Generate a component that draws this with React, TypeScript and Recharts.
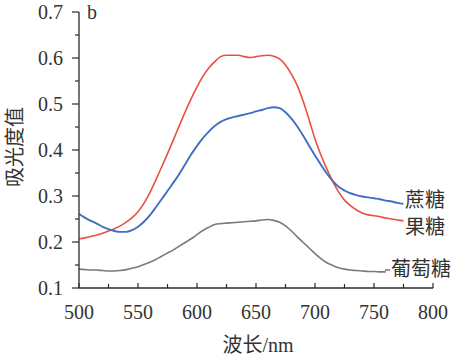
import React from 'react';
import { LineChart, Line, XAxis, YAxis } from 'recharts';

const wavelengths = [500,505,510,515,520,525,530,535,540,545,550,555,560,565,570,575,580,585,590,595,600,605,610,615,620,625,630,635,640,645,650,655,660,665,670,675,680,685,690,695,700,705,710,715,720,725,730,735,740,745,750,755,760,765,770,775];

const fructose = [0.207,0.209,0.212,0.215,0.219,0.224,0.229,0.235,0.243,0.253,0.266,0.284,0.307,0.334,0.363,0.392,0.422,0.453,0.483,0.511,0.537,0.560,0.578,0.592,0.603,0.606,0.606,0.606,0.603,0.601,0.603,0.605,0.606,0.604,0.598,0.585,0.565,0.540,0.506,0.466,0.424,0.389,0.359,0.332,0.309,0.291,0.279,0.270,0.263,0.259,0.257,0.255,0.252,0.250,0.248,0.246];

const sucrose = [0.261,0.253,0.246,0.240,0.233,0.228,0.224,0.222,0.222,0.226,0.233,0.244,0.258,0.275,0.293,0.311,0.329,0.348,0.369,0.390,0.409,0.426,0.440,0.452,0.461,0.467,0.471,0.474,0.477,0.480,0.484,0.487,0.491,0.493,0.491,0.482,0.468,0.451,0.431,0.409,0.388,0.368,0.349,0.333,0.320,0.312,0.306,0.302,0.299,0.297,0.295,0.293,0.290,0.288,0.285,0.283];

const glucose = [0.141,0.140,0.139,0.139,0.138,0.137,0.137,0.138,0.140,0.143,0.146,0.151,0.156,0.162,0.169,0.176,0.183,0.191,0.199,0.207,0.216,0.225,0.232,0.238,0.240,0.241,0.242,0.243,0.244,0.245,0.246,0.248,0.249,0.247,0.243,0.235,0.224,0.211,0.199,0.187,0.175,0.164,0.155,0.149,0.144,0.141,0.139,0.138,0.137,0.136,0.136,0.135,0.135];

const xTicks = [500,525,550,575,600,625,650,675,700,725,750,775,800];
const yTicks = [0.1,0.15,0.2,0.25,0.3,0.35,0.4,0.45,0.5,0.55,0.6,0.65,0.7];

const seriesLabels = ['蔗糖', '果糖', '葡萄糖'];
const panelLabel = 'b';
const yTitle = '吸光度值';

const data = wavelengths.map((w, i) => ({
  w,
  fructose: fructose[i],
  sucrose: sucrose[i],
  glucose: i < glucose.length ? glucose[i] : null,
}));

const AXIS = '#2a2a2a';
const NUM_FONT = '"Liberation Serif", "Times New Roman", serif';
const CJK_FONT = '"Noto Sans CJK SC", sans-serif';

const XTick = (props: any) => {
  const { x, y, payload } = props;
  const v = payload.value;
  const major = v % 50 === 0;
  return (
    <g>
      <line x1={x} x2={x} y1={y} y2={y - (major ? 5 : 4)} stroke={AXIS} strokeWidth={1.2} />
      {major && (
        <text x={x} y={y + 31} textAnchor="middle" fontFamily={NUM_FONT} fontSize={20} fill="#333">
          {v}
        </text>
      )}
    </g>
  );
};

const YTick = (props: any) => {
  const { x, y, payload } = props;
  const v = payload.value;
  const major = Math.round(v * 100) % 10 === 0;
  return (
    <g>
      <line x1={x} x2={x - (major ? 7 : 4)} y1={y} y2={y} stroke={AXIS} strokeWidth={1.2} />
      {major && (
        <text x={x - 16} y={y + 7} textAnchor="end" fontFamily={NUM_FONT} fontSize={20} fill="#333">
          {v.toFixed(1)}
        </text>
      )}
    </g>
  );
};

export default function App() {
  return (
    <div style={{ position: 'absolute', left: 0, top: 0, width: 457, height: 361, background: '#fff' }}>
      <LineChart
        width={457}
        height={361}
        data={data}
        margin={{ top: 12, right: 24, bottom: 33, left: 19 }}
      >
        <XAxis
          dataKey="w"
          type="number"
          domain={[500, 800]}
          ticks={xTicks}
          interval={0}
          height={40}
          tickSize={0}
          tickMargin={0}
          tickLine={false}
          axisLine={{ stroke: AXIS, strokeWidth: 1.3 }}
          tick={<XTick />}
        />
        <YAxis
          type="number"
          domain={[0.1, 0.7]}
          ticks={yTicks}
          interval={0}
          width={60}
          tickSize={0}
          tickMargin={0}
          tickLine={false}
          axisLine={{ stroke: AXIS, strokeWidth: 1.3 }}
          tick={<YTick />}
        />
        <Line type="monotone" dataKey="fructose" stroke="#e8503f" strokeWidth={1.6} dot={false} isAnimationActive={false} />
        <Line type="monotone" dataKey="sucrose" stroke="#3f6fc2" strokeWidth={1.9} dot={false} isAnimationActive={false} />
        <Line type="monotone" dataKey="glucose" stroke="#7a7a7a" strokeWidth={1.6} dot={false} isAnimationActive={false} connectNulls={false} />
      </LineChart>
      <svg width={457} height={361} style={{ position: 'absolute', left: 0, top: 0, pointerEvents: 'none' }}>
        <text x={87} y={19} fontFamily={NUM_FONT} fontSize={20} fill="#333">{panelLabel}</text>
        <text x={258} y={352} textAnchor="middle" fontFamily={CJK_FONT} fontSize={20} fill="#333">
          <tspan fontFamily={CJK_FONT}>波长</tspan>
          <tspan fontFamily={NUM_FONT}>/nm</tspan>
        </text>
        <text x={0} y={0} transform="translate(22,147) rotate(-90)" textAnchor="middle" fontFamily={CJK_FONT} fontSize={20} fill="#333">
          {yTitle}
        </text>
        <text x={405} y={207} fontFamily={CJK_FONT} fontSize={20} fill="#333">{seriesLabels[0]}</text>
        <text x={405} y={234} fontFamily={CJK_FONT} fontSize={20} fill="#333">{seriesLabels[1]}</text>
        <line x1={385} x2={390} y1={270} y2={270} stroke="#7a7a7a" strokeWidth={1.6} />
        <text x={391} y={276} fontFamily={CJK_FONT} fontSize={20} fill="#333">{seriesLabels[2]}</text>
      </svg>
    </div>
  );
}
